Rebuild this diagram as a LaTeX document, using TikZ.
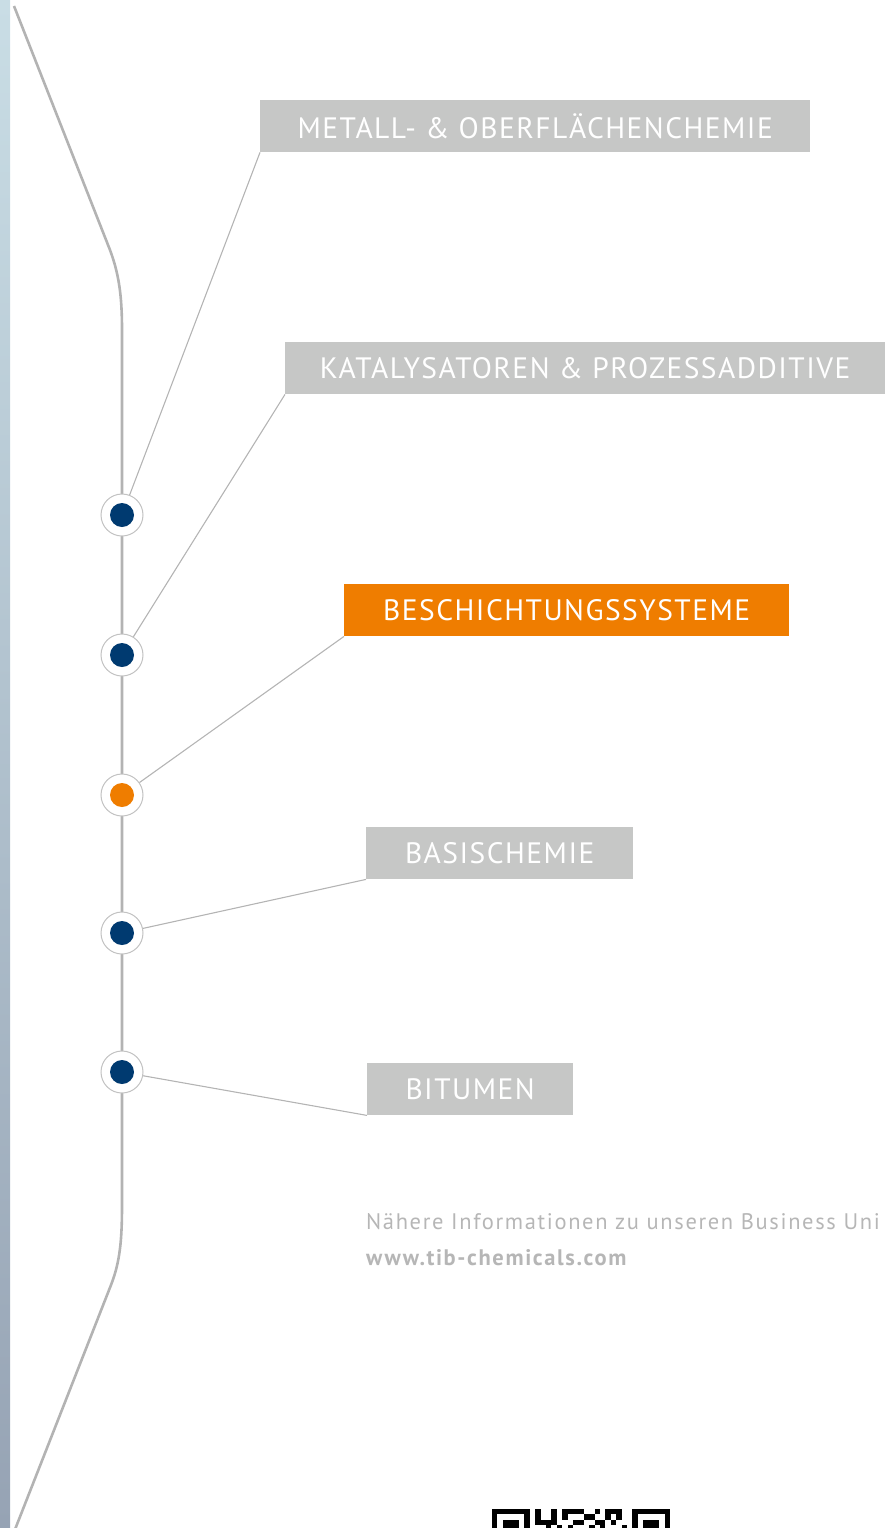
\documentclass[tikz,border=0pt]{standalone}
\usepackage{fontspec}
\setmainfont{PT Sans}
\newfontfamily\boxfont[LetterSpace=5]{PT Sans}
\newfontfamily\infofont[LetterSpace=7.3]{PT Sans}
\definecolor{boxgrey}{HTML}{C6C7C6}
\definecolor{tiborange}{HTML}{EF7D00}
\definecolor{tibnavy}{HTML}{003A70}
\definecolor{ringgrey}{HTML}{C2C2C2}
\definecolor{linkgrey}{HTML}{B4B4B4}
\definecolor{spinegrey}{HTML}{B3B3B3}
\definecolor{infogrey}{HTML}{B6B6B6}
\definecolor{striptop}{HTML}{C9DDE5}
\definecolor{stripbot}{HTML}{96A3B4}
\begin{document}
\begin{tikzpicture}[x=1pt,y=-1pt,
  catbox/.style={fill=boxgrey, text=white, font=\boxfont\fontsize{29.5}{29.5}\selectfont,
    minimum height=52pt, inner sep=0pt, anchor=north west},
  ring/.style={circle, draw=ringgrey, line width=1pt, fill=white, minimum size=42pt, inner sep=0pt},
  dot/.style={circle, fill=tibnavy, minimum size=24pt, inner sep=0pt},
  link/.style={draw=linkgrey, line width=1.1pt},
  spine/.style={draw=spinegrey, line width=2.6pt},
  info/.style={anchor=base west, inner sep=0pt, text=infogrey, font=\infofont\fontsize{22.5}{22.5}\selectfont}]
\useasboundingbox (0,0) rectangle (885,1528);
\begin{scope}
\clip (0,0) rectangle (885,1528);
% left gradient strip
\shade[top color=striptop, bottom color=stripbot] (0,0) rectangle (10,1528);
% spine
\draw[spine] (14,6) -- (110,250) .. controls (119,274) and (122,296) .. (122,330)
  -- (122,1205) .. controls (122,1240) and (120,1262) .. (111,1285) -- (14,1532);
% boxes
\node[catbox, minimum width=550pt] (b1) at (260,100) {METALL- \& OBERFLÄCHENCHEMIE};
\node[catbox, minimum width=600pt] (b2) at (285,342) {KATALYSATOREN \& PROZESSADDITIVE};
\node[catbox, fill=tiborange, minimum width=445pt] (b3) at (344,584) {BESCHICHTUNGSSYSTEME};
\node[catbox, minimum width=267pt] (b4) at (366,827) {BASISCHEMIE};
\node[catbox, minimum width=206pt] (b5) at (367,1063) {BITUMEN};
% rings
\node[ring] (c1) at (122,515) {};
\node[ring] (c2) at (122,655) {};
\node[ring] (c3) at (122,795) {};
\node[ring] (c4) at (122,933) {};
\node[ring] (c5) at (122,1072) {};
\node[dot] (d1) at (c1) {};
\node[dot] (d2) at (c2) {};
\node[dot, fill=tiborange] (d3) at (c3) {};
\node[dot] (d4) at (c4) {};
\node[dot] (d5) at (c5) {};
% connectors
\draw[link] (b1.south west) -- (c1);
\draw[link] (b2.south west) -- (c2);
\draw[link] (b3.south west) -- (c3);
\draw[link] (b4.south west) -- (c4);
\draw[link] (b5.south west) -- (c5);
% info text
\node[info] (t1) at (366,1229) {Nähere Informationen zu unseren Business Uni};
\node[info, font=\infofont\bfseries\fontsize{22.5}{22.5}\selectfont] (t2) at (366,1265) {www.tib-chemicals.com};
% QR code (top rows)
\def\m{5.4}
\foreach \c/\r in {0/0,1/0,2/0,3/0,4/0,5/0,6/0,0/1,6/1,0/2,2/2,3/2,4/2,6/2,0/3,2/3,3/3,4/3,6/3,
  26/0,27/0,28/0,29/0,30/0,31/0,32/0,26/1,32/1,26/2,28/2,29/2,30/2,32/2,26/3,28/3,29/3,30/3,32/3,
  8/0,11/0,13/0,14/0,15/0,16/0,19/0,21/0,22/0,23/0,
  8/1,11/1,13/1,17/1,18/1,21/1,23/1,
  8/2,9/2,10/2,11/2,15/2,16/2,19/2,20/2,22/2,
  10/3,12/3,14/3,18/3,20/3,24/3}
  \fill[black] (492+\c*\m,1509+\r*\m) rectangle ++(\m,\m);
\end{scope}
\end{tikzpicture}
\end{document}
